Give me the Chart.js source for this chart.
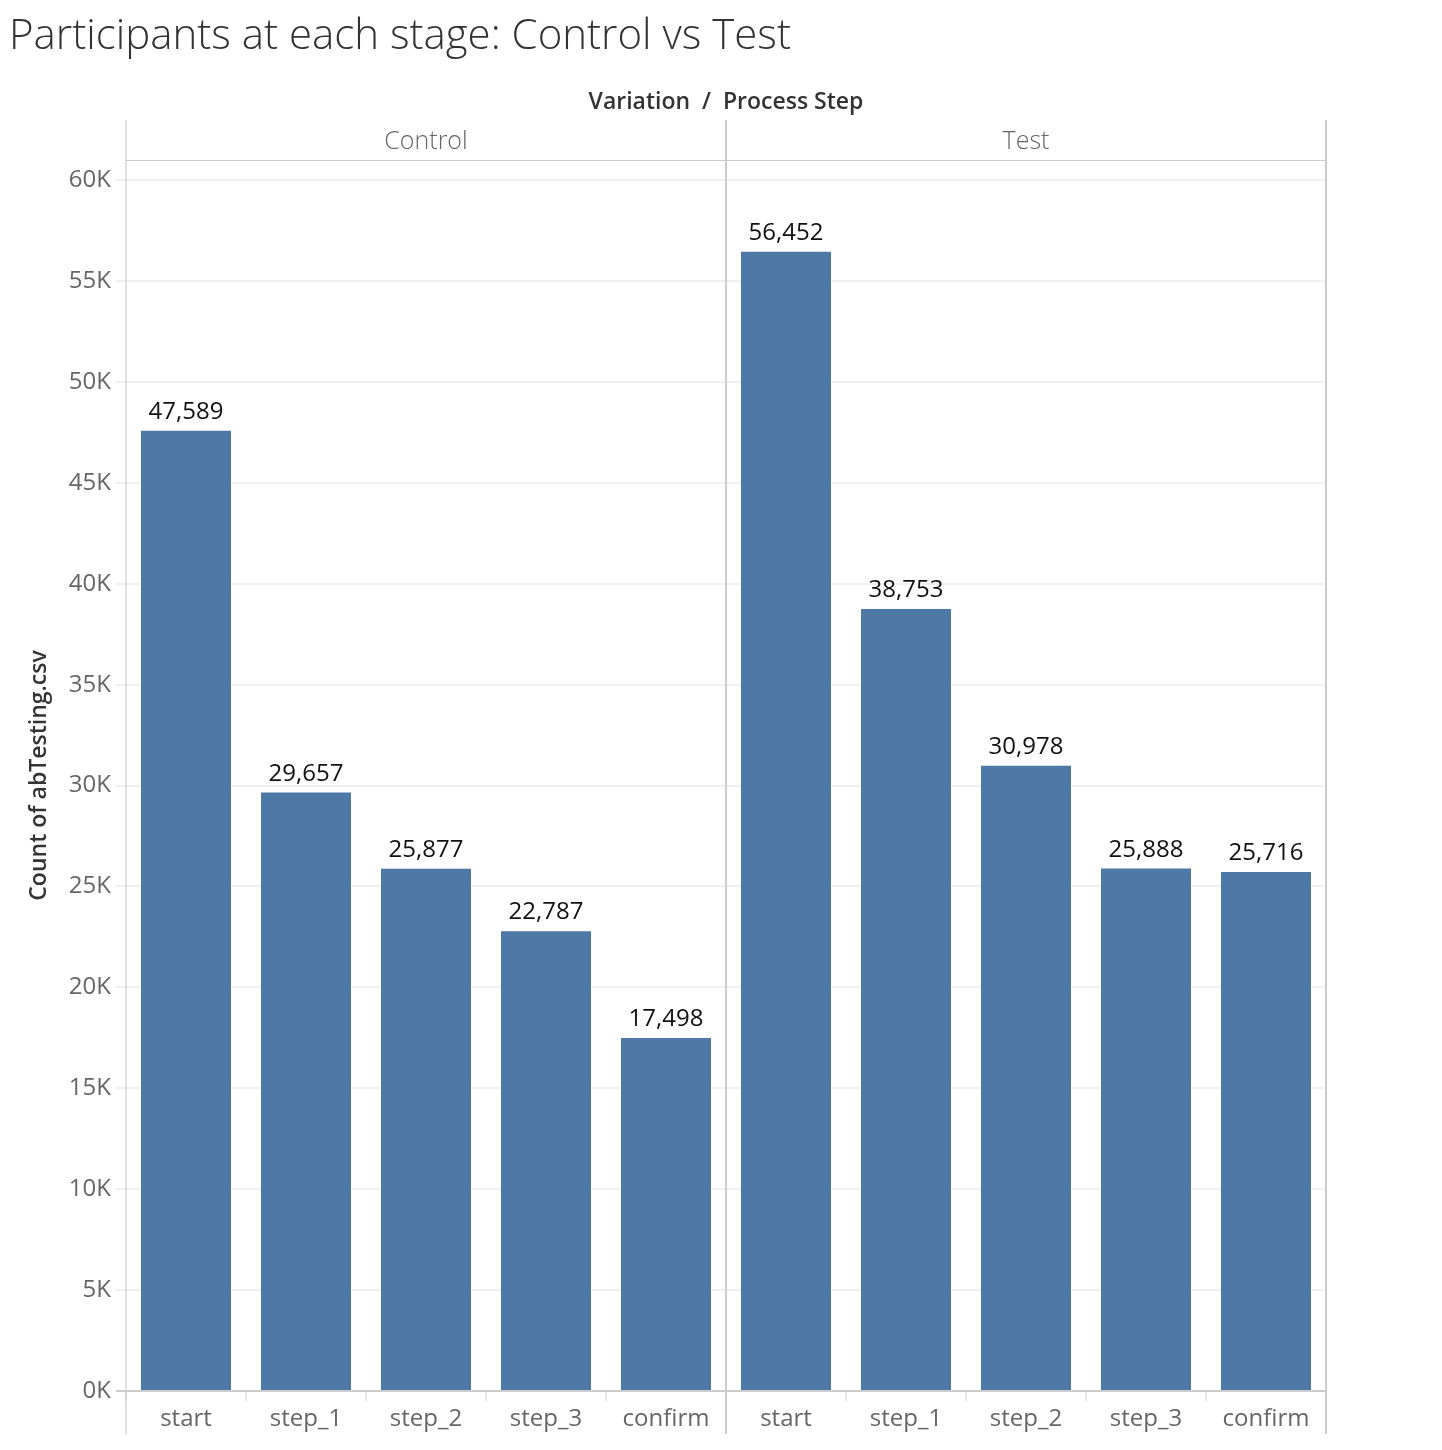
<!DOCTYPE html>
<html>
<head>
<meta charset="utf-8">
<script src="https://cdn.jsdelivr.net/npm/chart.js@4"></script>
<style>
  html, body { margin: 0; padding: 0; background: #fff; }
  #wrap { width: 1442px; height: 1450px; }
</style>
</head>
<body>
<div id="wrap"><canvas id="myChart" width="1442" height="1450"></canvas></div>
<script>
// data
const steps = ['start', 'step_1', 'step_2', 'step_3', 'confirm'];
const variations = ['Control', 'Test'];
const controlCounts = [47589, 29657, 25877, 22787, 17498];
const testCounts = [56452, 38753, 30978, 25888, 25716];
const yTickValues = [0, 5000, 10000, 15000, 20000, 25000, 30000, 35000, 40000, 45000, 50000, 55000, 60000];
const yMax = 61000;

const chartTitle = 'Participants at each stage: Control vs Test';
const headerTitle = 'Variation  /  Process Step';
const yTitle = 'Count of abTesting.csv';

const barColor = '#4e79a7';
const FONT = '"Open Sans", "Noto Sans", sans-serif';

// one category per bar, panels side by side
const labels = variations.flatMap(() => steps);
const values = controlCounts.concat(testCounts);

const facetPlugin = {
    id: 'facets',
    afterDraw(chart) {
        const ctx = chart.ctx;
        const { left, right, top } = chart.chartArea;
        const mid = (left + right) / 2;
        const panels = [left, mid, right];

        ctx.save();
        // title
        ctx.fillStyle = '#333333';
        ctx.font = `300 42px ${FONT}`;
        ctx.textAlign = 'left';
        ctx.textBaseline = 'middle';
        ctx.fillText(chartTitle, 9, 37);

        // header over the panels
        ctx.font = `600 23px ${FONT}`;
        ctx.textAlign = 'center';
        ctx.fillStyle = '#333333';
        ctx.fillText(headerTitle, mid, 102);

        ctx.font = `300 25px ${FONT}`;
        ctx.fillStyle = '#666666';
        variations.forEach((name, i) => {
            ctx.fillText(name, (panels[i] + panels[i + 1]) / 2, 142);
        });

        // frame
        ctx.strokeStyle = '#cccccc';
        ctx.lineWidth = 1;
        ctx.beginPath();
        ctx.moveTo(left, top + 0.5);
        ctx.lineTo(right, top + 0.5);
        ctx.stroke();

        [left, mid, right].forEach((x, i) => {
            ctx.lineWidth = i === 0 ? 1.2 : 2;
            ctx.beginPath();
            ctx.moveTo(x, 120);
            ctx.lineTo(x, 1434);
            ctx.stroke();
        });

        // value labels
        ctx.font = `400 24px ${FONT}`;
        ctx.fillStyle = '#111111';
        ctx.textAlign = 'center';
        ctx.textBaseline = 'alphabetic';
        const meta = chart.getDatasetMeta(0);
        meta.data.forEach((bar, i) => {
            const v = chart.data.datasets[0].data[i];
            ctx.fillText(v.toLocaleString('en-US'), bar.x, bar.y - 12);
        });
        ctx.restore();
    }
};

const canvas = /** @type {HTMLCanvasElement} */ (document.getElementById('myChart'));
const ctx = canvas.getContext('2d');

new Chart(ctx, {
    type: 'bar',
    data: {
        labels: labels,
        datasets: [{
            data: values,
            backgroundColor: barColor,
            borderWidth: 0,
            categoryPercentage: 1,
            barPercentage: 0.75
        }]
    },
    options: {
        responsive: false,
        animation: false,
        devicePixelRatio: 1,
        layout: {
            padding: { top: 160, right: 116, bottom: 0, left: 0 }
        },
        plugins: {
            legend: { display: false },
            tooltip: { enabled: false },
            title: { display: false }
        },
        scales: {
            x: {
                grid: {
                    drawOnChartArea: false,
                    drawTicks: true,
                    tickLength: 10,
                    color: '#e6e6e6',
                    lineWidth: 2
                },
                border: { display: true, color: '#cccccc', width: 2 },
                ticks: {
                    color: '#666666',
                    font: { family: FONT, size: 24 },
                    padding: 4,
                    maxRotation: 0,
                    autoSkip: false
                },
                afterFit(scale) { scale.height = 59; }
            },
            y: {
                min: 0,
                max: yMax,
                grid: {
                    color: c => (c.tick && c.tick.value === 0 ? '#cccccc' : '#f0f0f0'),
                    lineWidth: 2,
                    tickLength: 10
                },
                border: { display: false },
                ticks: {
                    color: '#666666',
                    font: { family: FONT, size: 24 },
                    padding: 5,
                    callback: v => (v / 1000) + 'K'
                },
                afterBuildTicks(scale) {
                    scale.ticks = yTickValues.map(v => ({ value: v }));
                },
                title: {
                    display: true,
                    text: yTitle,
                    color: '#333333',
                    font: { family: FONT, size: 23, weight: '600' },
                    padding: { top: 26, bottom: 0 }
                },
                afterFit(scale) { scale.width = 126; }
            }
        }
    },
    plugins: [facetPlugin]
});
</script>
</body>
</html>
